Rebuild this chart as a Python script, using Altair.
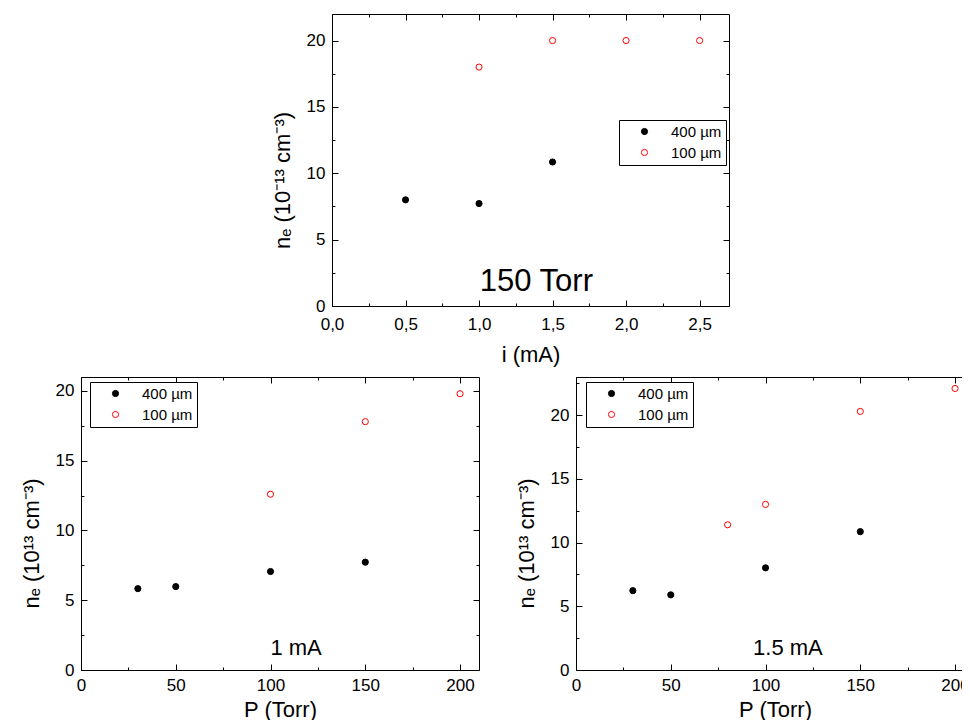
import altair as alt
import pandas as pd

FONT = "Liberation Sans"

S400 = "400 µm"
S100 = "100 µm"
SERIES = [S400, S100]
SERIES_STROKE = ["#000000", "#ff0000"]
SERIES_FILL = ["#000000", "transparent"]

# ---- top panel: 150 Torr, n_e vs current ----
top_i_400 = [0.5, 1.0, 1.5]
top_ne_400 = [8.0, 7.72, 10.85]
top_i_100 = [1.0, 1.5, 2.0, 2.5]
top_ne_100 = [18.0, 20.0, 20.0, 20.0]
top_x_ticks = [0.0, 0.5, 1.0, 1.5, 2.0, 2.5]
top_x_minor = [0.25, 0.75, 1.25, 1.75, 2.25]
top_y_ticks = [0, 5, 10, 15, 20]
top_y_minor = [2.5, 7.5, 12.5, 17.5]
top_note = "150 Torr"
top_note_pos = [1.39, 1.13]

# ---- bottom-left panel: 1 mA, n_e vs pressure ----
bl_p_400 = [30, 50, 100, 150]
bl_ne_400 = [5.83, 5.98, 7.06, 7.73]
bl_p_100 = [100, 150, 200]
bl_ne_100 = [12.6, 17.8, 19.8]
bl_y_ticks = [0, 5, 10, 15, 20]
bl_y_minor = [2.5, 7.5, 12.5, 17.5]
bl_note = "1 mA"
bl_note_pos = [113.5, 1.08]

# ---- bottom-right panel: 1.5 mA, n_e vs pressure ----
br_p_400 = [30, 50, 100, 150]
br_ne_400 = [6.23, 5.9, 8.02, 10.86]
br_p_100 = [80, 100, 150, 200]
br_ne_100 = [11.4, 13.0, 20.3, 22.1]
br_y_ticks = [0, 5, 10, 15, 20]
br_y_minor = [2.5, 7.5, 12.5, 17.5, 22.5]
br_note = "1.5 mA"
br_note_pos = [111.8, 1.18]

p_x_ticks = [0, 50, 100, 150, 200]
p_x_minor = [25, 75, 125, 175]

Y_TITLE_TOP = "nₑ (10⁻¹³ cm⁻³)"
Y_TITLE_BOT = "nₑ (10¹³ cm⁻³)"

COMMA_1F = "replace(format(datum.value, '.1f'), '.', ',')"
INT_FMT = "format(datum.value, 'd')"

# one shared canvas for the three panels (content past its right edge is clipped,
# as in the reference)
W, H = 881, 706


def tick_axis(orient, values, offset, size, domain):
    return alt.Axis(orient=orient, values=values, offset=offset, tickSize=size,
                    labels=False, title=None, domain=domain, ticks=True, grid=False)


def make_panel(x400, y400, x100, y100, xdom, ydom, box, xt, xm, yt, ym,
               xtitle, xtitle_y, xlabel_pad, ytitle, xlabel_expr, leg_off,
               note, note_pos, note_size):
    x0, y0, x1, y1 = box  # panel rectangle inside the canvas
    df = pd.DataFrame({
        "x": list(x400) + list(x100),
        "y": list(y400) + list(y100),
        "s": [S400] * len(x400) + [S100] * len(x100),
    })
    xs = alt.Scale(domain=xdom, range=[x0, x1], nice=False, zero=False)
    ys = alt.Scale(domain=ydom, range=[y1, y0], nice=False, zero=False)
    legend = alt.Legend(
        title=None, orient="none", legendX=x0 + leg_off[0], legendY=y0 + leg_off[1],
        strokeColor="black", fillColor="white", padding=4,
        symbolOffset=14, labelOffset=19, rowPadding=5,
        labelFont=FONT, labelFontSize=15, labelColor="black",
        symbolSize=38, symbolStrokeWidth=1, symbolType="circle",
    )
    base = alt.Chart(df)
    pts = base.mark_point(size=38, strokeWidth=1, opacity=1, shape="circle").encode(
        x=alt.X("x:Q", scale=xs, axis=alt.Axis(
            orient="bottom", offset=y1 - H, values=xt, title=xtitle, labelExpr=xlabel_expr,
            ticks=False, labelPadding=xlabel_pad,
            titleX=(x0 + x1) / 2, titleY=xtitle_y, titleBaseline="alphabetic",
            titleAlign="center")),
        y=alt.Y("y:Q", scale=ys, axis=alt.Axis(
            orient="left", offset=-x0, values=yt, title=ytitle, labelExpr=INT_FMT,
            ticks=False, labelPadding=7,
            titleX=-43, titleY=y0 + 166, titleAngle=270,
            titleBaseline="alphabetic", titleAlign="center")),
        color=alt.Color("s:N", scale=alt.Scale(domain=SERIES, range=SERIES_STROKE), legend=legend),
        fill=alt.Fill("s:N", scale=alt.Scale(domain=SERIES, range=SERIES_FILL), legend=legend),
    )

    def ghost(xaxis, yaxis):
        return base.mark_point(opacity=0, size=1).encode(
            x=alt.X("x:Q", scale=xs, axis=xaxis),
            y=alt.Y("y:Q", scale=ys, axis=yaxis),
        )

    # inward ticks: axes of the opposite orient moved onto the panel edges
    layers = [pts]
    for vals_x, vals_y, size in ((xt, yt, 6), (xm, ym, 3)):
        layers.append(ghost(tick_axis("top", vals_x, -y1, size, False),
                            tick_axis("right", vals_y, x0 - W, size, False)))
        layers.append(ghost(tick_axis("bottom", vals_x, y0 - H, size, size == 6),
                            tick_axis("left", vals_y, -x1, size, size == 6)))

    nd = pd.DataFrame({"x": [note_pos[0]], "y": [note_pos[1]], "t": [note]})
    layers.append(alt.Chart(nd).mark_text(
        font=FONT, fontSize=note_size, align="center", baseline="alphabetic", color="black"
    ).encode(
        x=alt.X("x:Q", scale=xs, axis=None),
        y=alt.Y("y:Q", scale=ys, axis=None),
        text="t:N",
    ))
    return layers


layers = []
layers += make_panel(top_i_400, top_ne_400, top_i_100, top_ne_100, [0, 2.7], [0, 22],
                     (251, 0, 648, 292),
                     top_x_ticks, top_x_minor, top_y_ticks, top_y_minor,
                     "i (mA)", 55, 10, Y_TITLE_TOP, COMMA_1F, (287, 106),
                     top_note, top_note_pos, 31)
layers += make_panel(bl_p_400, bl_ne_400, bl_p_100, bl_ne_100, [0, 210], [0, 21],
                     (0, 363, 398, 656),
                     p_x_ticks, p_x_minor, bl_y_ticks, bl_y_minor,
                     "P (Torr)", 46, 7, Y_TITLE_BOT, INT_FMT, (9, 5),
                     bl_note, bl_note_pos, 22)
layers += make_panel(br_p_400, br_ne_400, br_p_100, br_ne_100, [0, 210], [0, 23],
                     (495, 363, 893, 656),
                     p_x_ticks, p_x_minor, br_y_ticks, br_y_minor,
                     "P (Torr)", 46, 7, Y_TITLE_BOT, INT_FMT, (10, 5),
                     br_note, br_note_pos, 22)

chart = alt.layer(*layers).resolve_scale(
    x="independent", y="independent", color="independent", fill="independent"
).resolve_axis(
    x="independent", y="independent"
).resolve_legend(
    color="independent", fill="independent"
).properties(
    width=W, height=H,
    autosize=alt.AutoSizeParams(type="none"),
    padding={"left": 73, "top": 6, "right": 0, "bottom": 0},
).configure_view(
    strokeWidth=0
).configure_axis(
    grid=False, domainColor="black", tickColor="black", labelColor="black",
    titleColor="black", labelFont=FONT, titleFont=FONT, labelFontSize=17,
    titleFontSize=22, titleFontWeight="normal", tickWidth=1, domainWidth=1,
    labelOverlap=False, labelFlush=False,
)

chart.save("out.html", embed_options={"renderer": "svg", "actions": False})
